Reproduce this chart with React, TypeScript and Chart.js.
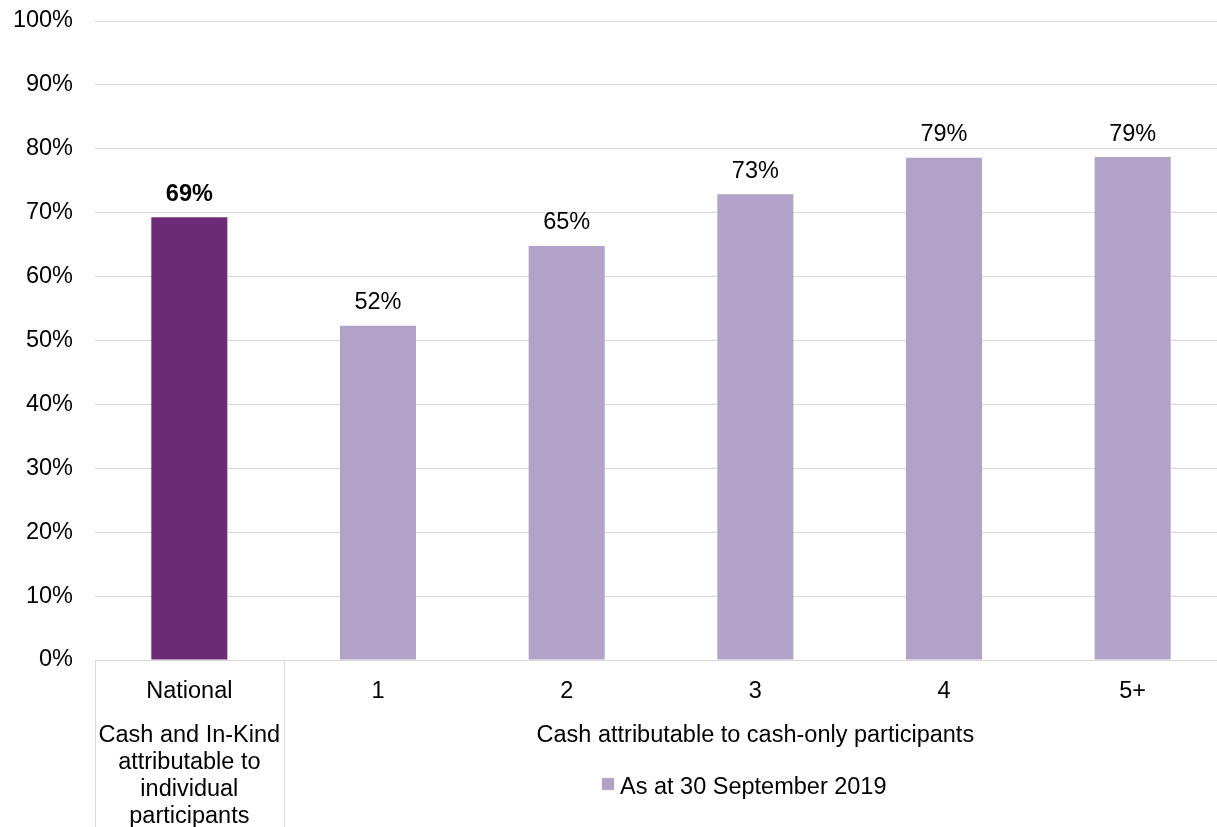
import React, { useEffect, useRef } from "react";
import { Chart, registerables } from "chart.js";

Chart.register(...registerables);

const categories = ["National", "1", "2", "3", "4", "5+"];
const values = [69.3, 52.3, 64.8, 72.9, 78.6, 78.7];
const valueLabels = ["69%", "52%", "65%", "73%", "79%", "79%"];
const barColors = ["#6B2C75", "#B3A2C7", "#B3A2C7", "#B3A2C7", "#B3A2C7", "#B3A2C7"];
const boldLabel = [true, false, false, false, false, false];
const groupLabels = [
  ["Cash and In-Kind", "attributable to", "individual", "participants"],
  ["Cash attributable to cash-only participants"],
];
const groupSpans = [
  [0, 0],
  [1, 5],
];
const seriesName = "As at 30 September 2019";
const yTicks = [0, 10, 20, 30, 40, 50, 60, 70, 80, 90, 100];

const FONT = "'Liberation Sans', Arial, sans-serif";
const FS = 23.5;

export default function App() {
  const ref = useRef<HTMLCanvasElement>(null);
  useEffect(() => {
    if (!ref.current) return;
    const overlay = {
      id: "overlay",
      afterDraw(chart: any) {
        const ctx = chart.ctx;
        const x = chart.scales.x;
        const area = chart.chartArea;
        const meta = chart.getDatasetMeta(0);
        ctx.save();
        ctx.textAlign = "center";
        ctx.textBaseline = "middle";
        ctx.fillStyle = "#000";
        meta.data.forEach((bar: any, i: number) => {
          ctx.font = (boldLabel[i] ? "bold " : "") + FS + "px " + FONT;
          ctx.fillText(valueLabels[i], bar.x, bar.y - 23);
        });
        ctx.strokeStyle = "#D9D9D9";
        ctx.lineWidth = 1;
        const bottom = chart.height;
        const sepXs: number[] = [area.left];
        for (let g = 0; g < groupSpans.length - 1; g++) {
          const e = groupSpans[g][1];
          sepXs.push((x.getPixelForValue(e) + x.getPixelForValue(e + 1)) / 2);
        }
        sepXs.forEach((sx) => {
          const px = Math.round(sx) + 0.5;
          ctx.beginPath();
          ctx.moveTo(px, area.bottom);
          ctx.lineTo(px, bottom);
          ctx.stroke();
        });
        ctx.font = FS + "px " + FONT;
        ctx.fillStyle = "#000";
        groupSpans.forEach(([s, e], g) => {
          const step = x.getPixelForValue(1) - x.getPixelForValue(0);
          const left = x.getPixelForValue(s) - step / 2;
          const right = x.getPixelForValue(e) + step / 2;
          const cx = (left + right) / 2;
          groupLabels[g].forEach((line, li) => {
            ctx.fillText(line, cx, 736 + li * 27);
          });
        });
        ctx.fillStyle = "#B3A2C7";
        ctx.fillRect(602, 778, 12, 12);
        ctx.fillStyle = "#000";
        ctx.textAlign = "left";
        ctx.fillText(seriesName, 620, 788);
        ctx.restore();
      },
    };
    const chart = new Chart(ref.current, {
      type: "bar",
      data: {
        labels: categories,
        datasets: [
          {
            label: seriesName,
            data: values,
            backgroundColor: barColors,
            barPercentage: 0.403,
            categoryPercentage: 1,
          },
        ],
      },
      options: {
        responsive: false,
        animation: false,
        layout: { padding: { top: 21, left: 0, right: 0, bottom: 0 } },
        plugins: { legend: { display: false }, tooltip: { enabled: false } },
        scales: {
          x: {
            grid: { display: false },
            border: { display: true, color: "#D9D9D9", width: 1 },
            ticks: {
              color: "#000",
              font: { family: FONT, size: FS },
              padding: 9,
              maxRotation: 0,
            },
            afterFit(scale: any) {
              scale.height = 167;
              scale.paddingLeft = 0;
              scale.paddingRight = 0;
            },
          },
          y: {
            min: 0,
            max: 100,
            afterBuildTicks(scale: any) {
              scale.ticks = yTicks.map((v) => ({ value: v }));
            },
            grid: { color: "#D9D9D9", drawTicks: false },
            border: { display: false },
            ticks: {
              color: "#000",
              font: { family: FONT, size: FS },
              padding: 22,
              callback: (v: any) => v + "%",
            },
            afterFit(scale: any) {
              scale.width = 95;
              scale.paddingTop = 0;
              scale.paddingBottom = 0;
            },
          },
        },
      },
      plugins: [overlay],
    });
    return () => chart.destroy();
  }, []);
  return (
    <div style={{ position: "fixed", left: 0, top: 0, width: 1217, height: 827, overflow: "hidden", background: "#fff" }}>
      <canvas ref={ref} width={1227} height={827} style={{ display: "block" }} />
    </div>
  );
}
